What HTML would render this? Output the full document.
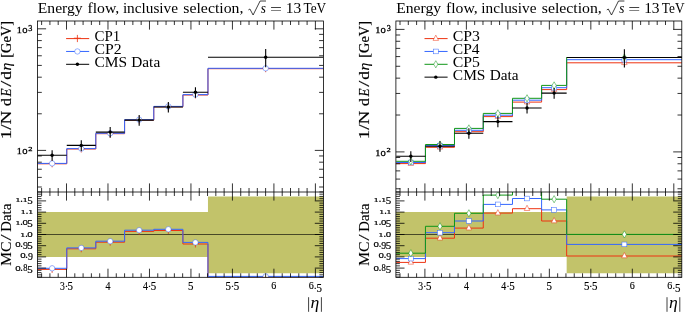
<!DOCTYPE html>
<html><head><meta charset="utf-8"><style>
html,body{margin:0;padding:0;background:#fff;overflow:hidden}
svg{display:block;font-family:"Liberation Serif",serif}
</style></head><body>
<svg width="685" height="312" viewBox="0 0 685 312">
<rect width="685" height="312" fill="#fff"/>
<clipPath id="m0"><rect x="37.5" y="21.0" width="285.9" height="171.0"/></clipPath>
<clipPath id="r0"><rect x="37.5" y="192.0" width="285.9" height="85.30000000000001"/></clipPath>
<g clip-path="url(#r0)">
<path d="M37.50,212.10H207.96V196.4H323.40V273.2H207.96V256.90H37.50Z" fill="#c2c36a"/>
<path d="M37.5,234.50H323.4" stroke="#000" stroke-opacity="0.7" stroke-width="0.9"/>
<path d="M37.50,269.40L66.75,269.40L66.75,248.80L95.79,248.80L95.79,242.20L124.58,242.20L124.58,231.40L153.78,231.40L153.78,230.50L182.90,230.50L182.90,244.00L207.96,244.00L207.96,277.60L323.40,277.60" stroke="#EE3311" stroke-width="1.0" fill="none"/>
<path d="M37.50,268.30L66.75,268.30L66.75,247.90L95.79,247.90L95.79,241.20L124.58,241.20L124.58,230.20L153.78,230.20L153.78,229.30L182.90,229.30L182.90,242.40L207.96,242.40L207.96,276.40L323.40,276.40" stroke="#3366FF" stroke-width="1.0" fill="none"/>
<path d="M48.62,269.00H55.62M52.12,265.70V272.90" stroke="#EE3311" stroke-width="0.8" fill="none"/>
<path d="M77.77,248.40H84.77M81.27,245.10V252.30" stroke="#EE3311" stroke-width="0.8" fill="none"/>
<path d="M106.68,241.80H113.68M110.18,238.50V245.70" stroke="#EE3311" stroke-width="0.8" fill="none"/>
<path d="M135.68,231.00H142.68M139.18,227.70V234.90" stroke="#EE3311" stroke-width="0.8" fill="none"/>
<path d="M164.84,230.10H171.84M168.34,226.80V234.00" stroke="#EE3311" stroke-width="0.8" fill="none"/>
<path d="M191.93,243.60H198.93M195.43,240.30V247.50" stroke="#EE3311" stroke-width="0.8" fill="none"/>
<path d="M262.18,277.20H269.18M265.68,273.90V281.10" stroke="#EE3311" stroke-width="0.8" fill="none"/>
<circle cx="52.12" cy="268.30" r="2.7" fill="#fff" stroke="#3366FF" stroke-width="0.5"/>
<circle cx="81.27" cy="247.90" r="2.7" fill="#fff" stroke="#3366FF" stroke-width="0.5"/>
<circle cx="110.18" cy="241.20" r="2.7" fill="#fff" stroke="#3366FF" stroke-width="0.5"/>
<circle cx="139.18" cy="230.20" r="2.7" fill="#fff" stroke="#3366FF" stroke-width="0.5"/>
<circle cx="168.34" cy="229.30" r="2.7" fill="#fff" stroke="#3366FF" stroke-width="0.5"/>
<circle cx="195.43" cy="242.40" r="2.7" fill="#fff" stroke="#3366FF" stroke-width="0.5"/>
<circle cx="265.68" cy="276.40" r="2.7" fill="#fff" stroke="#3366FF" stroke-width="0.5"/>
</g>
<g clip-path="url(#m0)">
<path d="M37.50,163.80L66.75,163.80L66.75,149.00L95.79,149.00L95.79,133.70L124.58,133.70L124.58,120.10L153.78,120.10L153.78,106.80L182.90,106.80L182.90,95.00L207.96,95.00L207.96,68.70L323.40,68.70" stroke="#EE3311" stroke-width="1.0" fill="none"/>
<path d="M37.50,163.40L66.75,163.40L66.75,148.60L95.79,148.60L95.79,133.30L124.58,133.30L124.58,119.70L153.78,119.70L153.78,106.40L182.90,106.40L182.90,94.60L207.96,94.60L207.96,68.30L323.40,68.30" stroke="#3366FF" stroke-width="1.0" fill="none"/>
<path d="M48.62,163.40H55.62M52.12,160.10V167.30" stroke="#EE3311" stroke-width="0.8" fill="none"/>
<path d="M77.77,148.60H84.77M81.27,145.30V152.50" stroke="#EE3311" stroke-width="0.8" fill="none"/>
<path d="M106.68,133.30H113.68M110.18,130.00V137.20" stroke="#EE3311" stroke-width="0.8" fill="none"/>
<path d="M135.68,119.70H142.68M139.18,116.40V123.60" stroke="#EE3311" stroke-width="0.8" fill="none"/>
<path d="M164.84,106.40H171.84M168.34,103.10V110.30" stroke="#EE3311" stroke-width="0.8" fill="none"/>
<path d="M191.93,94.60H198.93M195.43,91.30V98.50" stroke="#EE3311" stroke-width="0.8" fill="none"/>
<path d="M262.18,68.30H269.18M265.68,65.00V72.20" stroke="#EE3311" stroke-width="0.8" fill="none"/>
<circle cx="52.12" cy="163.40" r="2.7" fill="#fff" stroke="#3366FF" stroke-width="0.5"/>
<circle cx="81.27" cy="148.60" r="2.7" fill="#fff" stroke="#3366FF" stroke-width="0.5"/>
<circle cx="110.18" cy="133.30" r="2.7" fill="#fff" stroke="#3366FF" stroke-width="0.5"/>
<circle cx="139.18" cy="119.70" r="2.7" fill="#fff" stroke="#3366FF" stroke-width="0.5"/>
<circle cx="168.34" cy="106.40" r="2.7" fill="#fff" stroke="#3366FF" stroke-width="0.5"/>
<circle cx="195.43" cy="94.60" r="2.7" fill="#fff" stroke="#3366FF" stroke-width="0.5"/>
<circle cx="265.68" cy="68.30" r="2.7" fill="#fff" stroke="#3366FF" stroke-width="0.5"/>
<path d="M37.50,155.20H66.75M52.12,150.17V160.76M66.75,145.40H95.79M81.27,140.37V150.96M95.79,132.10H124.58M110.18,127.07V137.66M124.58,120.10H153.78M139.18,115.07V125.66M153.78,107.00H182.90M168.34,101.97V112.56M182.90,92.30H207.96M195.43,87.27V97.86M207.96,57.30H323.40M265.68,49.01V67.14" stroke="#000" stroke-width="1.1" fill="none"/>
<circle cx="52.12" cy="155.20" r="1.7" fill="#000"/>
<circle cx="81.27" cy="145.40" r="1.7" fill="#000"/>
<circle cx="110.18" cy="132.10" r="1.7" fill="#000"/>
<circle cx="139.18" cy="120.10" r="1.7" fill="#000"/>
<circle cx="168.34" cy="107.00" r="1.7" fill="#000"/>
<circle cx="195.43" cy="92.30" r="1.7" fill="#000"/>
<circle cx="265.68" cy="57.30" r="1.7" fill="#000"/>
</g>
<path d="M41.61,21.00v4.0M41.61,192.00v-4.0M49.91,21.00v4.0M49.91,192.00v-4.0M58.20,21.00v4.0M58.20,192.00v-4.0M66.50,21.00v8.6M66.50,192.00v-8.6M74.80,21.00v4.0M74.80,192.00v-4.0M83.09,21.00v4.0M83.09,192.00v-4.0M91.39,21.00v4.0M91.39,192.00v-4.0M99.69,21.00v4.0M99.69,192.00v-4.0M107.98,21.00v8.6M107.98,192.00v-8.6M116.28,21.00v4.0M116.28,192.00v-4.0M124.58,21.00v4.0M124.58,192.00v-4.0M132.87,21.00v4.0M132.87,192.00v-4.0M141.17,21.00v4.0M141.17,192.00v-4.0M149.47,21.00v8.6M149.47,192.00v-8.6M157.76,21.00v4.0M157.76,192.00v-4.0M166.06,21.00v4.0M166.06,192.00v-4.0M174.36,21.00v4.0M174.36,192.00v-4.0M182.65,21.00v4.0M182.65,192.00v-4.0M190.95,21.00v8.6M190.95,192.00v-8.6M199.25,21.00v4.0M199.25,192.00v-4.0M207.54,21.00v4.0M207.54,192.00v-4.0M215.84,21.00v4.0M215.84,192.00v-4.0M224.14,21.00v4.0M224.14,192.00v-4.0M232.43,21.00v8.6M232.43,192.00v-8.6M240.73,21.00v4.0M240.73,192.00v-4.0M249.03,21.00v4.0M249.03,192.00v-4.0M257.32,21.00v4.0M257.32,192.00v-4.0M265.62,21.00v4.0M265.62,192.00v-4.0M273.92,21.00v8.6M273.92,192.00v-8.6M282.21,21.00v4.0M282.21,192.00v-4.0M290.51,21.00v4.0M290.51,192.00v-4.0M298.81,21.00v4.0M298.81,192.00v-4.0M307.10,21.00v4.0M307.10,192.00v-4.0M315.40,21.00v8.6M315.40,192.00v-8.6M41.61,192.00v4.0M41.61,277.30v-4.0M49.91,192.00v4.0M49.91,277.30v-4.0M58.20,192.00v4.0M58.20,277.30v-4.0M66.50,192.00v8.6M66.50,277.30v-8.6M74.80,192.00v4.0M74.80,277.30v-4.0M83.09,192.00v4.0M83.09,277.30v-4.0M91.39,192.00v4.0M91.39,277.30v-4.0M99.69,192.00v4.0M99.69,277.30v-4.0M107.98,192.00v8.6M107.98,277.30v-8.6M116.28,192.00v4.0M116.28,277.30v-4.0M124.58,192.00v4.0M124.58,277.30v-4.0M132.87,192.00v4.0M132.87,277.30v-4.0M141.17,192.00v4.0M141.17,277.30v-4.0M149.47,192.00v8.6M149.47,277.30v-8.6M157.76,192.00v4.0M157.76,277.30v-4.0M166.06,192.00v4.0M166.06,277.30v-4.0M174.36,192.00v4.0M174.36,277.30v-4.0M182.65,192.00v4.0M182.65,277.30v-4.0M190.95,192.00v8.6M190.95,277.30v-8.6M199.25,192.00v4.0M199.25,277.30v-4.0M207.54,192.00v4.0M207.54,277.30v-4.0M215.84,192.00v4.0M215.84,277.30v-4.0M224.14,192.00v4.0M224.14,277.30v-4.0M232.43,192.00v8.6M232.43,277.30v-8.6M240.73,192.00v4.0M240.73,277.30v-4.0M249.03,192.00v4.0M249.03,277.30v-4.0M257.32,192.00v4.0M257.32,277.30v-4.0M265.62,192.00v4.0M265.62,277.30v-4.0M273.92,192.00v8.6M273.92,277.30v-8.6M282.21,192.00v4.0M282.21,277.30v-4.0M290.51,192.00v4.0M290.51,277.30v-4.0M298.81,192.00v4.0M298.81,277.30v-4.0M307.10,192.00v4.0M307.10,277.30v-4.0M315.40,192.00v8.6M315.40,277.30v-8.6M37.50,187.01h4.3M323.40,187.01h-4.3M37.50,177.38h4.3M323.40,177.38h-4.3M37.50,169.24h4.3M323.40,169.24h-4.3M37.50,162.18h4.3M323.40,162.18h-4.3M37.50,155.96h4.3M323.40,155.96h-4.3M37.50,150.40h8.6M323.40,150.40h-8.6M37.50,113.79h4.3M323.40,113.79h-4.3M37.50,92.38h4.3M323.40,92.38h-4.3M37.50,77.19h4.3M323.40,77.19h-4.3M37.50,65.41h4.3M323.40,65.41h-4.3M37.50,55.78h4.3M323.40,55.78h-4.3M37.50,47.64h4.3M323.40,47.64h-4.3M37.50,40.58h4.3M323.40,40.58h-4.3M37.50,34.36h4.3M323.40,34.36h-4.3M37.50,28.80h8.6M323.40,28.80h-8.6M37.50,277.06h4.0M323.40,277.06h-4.0M37.50,274.82h4.0M323.40,274.82h-4.0M37.50,272.58h4.0M323.40,272.58h-4.0M37.50,270.34h4.0M323.40,270.34h-4.0M37.50,268.10h8.6M323.40,268.10h-8.6M37.50,265.86h4.0M323.40,265.86h-4.0M37.50,263.62h4.0M323.40,263.62h-4.0M37.50,261.38h4.0M323.40,261.38h-4.0M37.50,259.14h4.0M323.40,259.14h-4.0M37.50,256.90h8.6M323.40,256.90h-8.6M37.50,254.66h4.0M323.40,254.66h-4.0M37.50,252.42h4.0M323.40,252.42h-4.0M37.50,250.18h4.0M323.40,250.18h-4.0M37.50,247.94h4.0M323.40,247.94h-4.0M37.50,245.70h8.6M323.40,245.70h-8.6M37.50,243.46h4.0M323.40,243.46h-4.0M37.50,241.22h4.0M323.40,241.22h-4.0M37.50,238.98h4.0M323.40,238.98h-4.0M37.50,236.74h4.0M323.40,236.74h-4.0M37.50,234.50h8.6M323.40,234.50h-8.6M37.50,232.26h4.0M323.40,232.26h-4.0M37.50,230.02h4.0M323.40,230.02h-4.0M37.50,227.78h4.0M323.40,227.78h-4.0M37.50,225.54h4.0M323.40,225.54h-4.0M37.50,223.30h8.6M323.40,223.30h-8.6M37.50,221.06h4.0M323.40,221.06h-4.0M37.50,218.82h4.0M323.40,218.82h-4.0M37.50,216.58h4.0M323.40,216.58h-4.0M37.50,214.34h4.0M323.40,214.34h-4.0M37.50,212.10h8.6M323.40,212.10h-8.6M37.50,209.86h4.0M323.40,209.86h-4.0M37.50,207.62h4.0M323.40,207.62h-4.0M37.50,205.38h4.0M323.40,205.38h-4.0M37.50,203.14h4.0M323.40,203.14h-4.0M37.50,200.90h8.6M323.40,200.90h-8.6M37.50,198.66h4.0M323.40,198.66h-4.0M37.50,196.42h4.0M323.40,196.42h-4.0M37.50,194.18h4.0M323.40,194.18h-4.0M37.50,191.94h4.0M323.40,191.94h-4.0" stroke="#000" stroke-width="0.8" fill="none"/>
<rect x="37.5" y="21.0" width="285.90" height="256.30" fill="none" stroke="#000" stroke-width="0.8"/>
<path d="M37.5,192.0H323.4" stroke="#000" stroke-width="0.8"/>
<clipPath id="m1"><rect x="395.9" y="21.0" width="285.9" height="171.0"/></clipPath>
<clipPath id="r1"><rect x="395.9" y="192.0" width="285.9" height="85.30000000000001"/></clipPath>
<g clip-path="url(#r1)">
<path d="M396.20,212.10H566.66V196.4H682.10V273.2H566.66V256.90H396.20Z" fill="#c2c36a"/>
<path d="M395.9,234.50H681.8" stroke="#000" stroke-opacity="0.7" stroke-width="0.9"/>
<path d="M396.20,262.40L425.45,262.40L425.45,238.20L454.49,238.20L454.49,228.10L483.28,228.10L483.28,213.10L512.48,213.10L512.48,208.70L541.60,208.70L541.60,221.00L566.66,221.00L566.66,256.00L682.10,256.00" stroke="#EE3311" stroke-width="1.0" fill="none"/>
<path d="M396.20,258.60L425.45,258.60L425.45,232.70L454.49,232.70L454.49,221.00L483.28,221.00L483.28,204.40L512.48,204.40L512.48,198.50L541.60,198.50L541.60,209.90L566.66,209.90L566.66,244.40L682.10,244.40" stroke="#3366FF" stroke-width="1.0" fill="none"/>
<path d="M396.20,253.20L425.45,253.20L425.45,226.30L454.49,226.30L454.49,213.30L483.28,213.30L483.28,195.10L512.48,195.10L512.48,186.00L541.60,186.00L541.60,199.20L566.66,199.20L566.66,234.40L682.10,234.40" stroke="#109618" stroke-width="1.0" fill="none"/>
<path d="M410.82,258.90L413.57,264.20L408.07,264.20Z" fill="#fff" stroke="#EE3311" stroke-width="0.5"/>
<path d="M439.97,234.70L442.72,240.00L437.22,240.00Z" fill="#fff" stroke="#EE3311" stroke-width="0.5"/>
<path d="M468.88,224.60L471.63,229.90L466.13,229.90Z" fill="#fff" stroke="#EE3311" stroke-width="0.5"/>
<path d="M497.88,209.60L500.63,214.90L495.13,214.90Z" fill="#fff" stroke="#EE3311" stroke-width="0.5"/>
<path d="M527.04,205.20L529.79,210.50L524.29,210.50Z" fill="#fff" stroke="#EE3311" stroke-width="0.5"/>
<path d="M554.13,217.50L556.88,222.80L551.38,222.80Z" fill="#fff" stroke="#EE3311" stroke-width="0.5"/>
<path d="M624.38,252.50L627.13,257.80L621.63,257.80Z" fill="#fff" stroke="#EE3311" stroke-width="0.5"/>
<rect x="408.37" y="256.25" width="4.9" height="4.7" fill="#fff" stroke="#3366FF" stroke-width="0.5"/>
<rect x="437.52" y="230.35" width="4.9" height="4.7" fill="#fff" stroke="#3366FF" stroke-width="0.5"/>
<rect x="466.43" y="218.65" width="4.9" height="4.7" fill="#fff" stroke="#3366FF" stroke-width="0.5"/>
<rect x="495.43" y="202.05" width="4.9" height="4.7" fill="#fff" stroke="#3366FF" stroke-width="0.5"/>
<rect x="524.59" y="196.15" width="4.9" height="4.7" fill="#fff" stroke="#3366FF" stroke-width="0.5"/>
<rect x="551.68" y="207.55" width="4.9" height="4.7" fill="#fff" stroke="#3366FF" stroke-width="0.5"/>
<rect x="621.93" y="242.05" width="4.9" height="4.7" fill="#fff" stroke="#3366FF" stroke-width="0.5"/>
<path d="M410.82,249.60L412.92,253.20L410.82,256.80L408.72,253.20Z" fill="#fff" stroke="#109618" stroke-width="0.5"/>
<path d="M439.97,222.70L442.07,226.30L439.97,229.90L437.87,226.30Z" fill="#fff" stroke="#109618" stroke-width="0.5"/>
<path d="M468.88,209.70L470.98,213.30L468.88,216.90L466.78,213.30Z" fill="#fff" stroke="#109618" stroke-width="0.5"/>
<path d="M497.88,191.50L499.98,195.10L497.88,198.70L495.78,195.10Z" fill="#fff" stroke="#109618" stroke-width="0.5"/>
<path d="M527.04,182.40L529.14,186.00L527.04,189.60L524.94,186.00Z" fill="#fff" stroke="#109618" stroke-width="0.5"/>
<path d="M554.13,195.60L556.23,199.20L554.13,202.80L552.03,199.20Z" fill="#fff" stroke="#109618" stroke-width="0.5"/>
<path d="M624.38,230.80L626.48,234.40L624.38,238.00L622.28,234.40Z" fill="#fff" stroke="#109618" stroke-width="0.5"/>
</g>
<g clip-path="url(#m1)">
<path d="M396.20,163.60L425.45,163.60L425.45,147.30L454.49,147.30L454.49,131.70L483.28,131.70L483.28,116.60L512.48,116.60L512.48,102.10L541.60,102.10L541.60,89.60L566.66,89.60L566.66,62.80L682.10,62.80" stroke="#EE3311" stroke-width="1.0" fill="none"/>
<path d="M396.20,162.50L425.45,162.50L425.45,145.60L454.49,145.60L454.49,130.30L483.28,130.30L483.28,115.20L512.48,115.20L512.48,100.20L541.60,100.20L541.60,87.70L566.66,87.70L566.66,59.70L682.10,59.70" stroke="#3366FF" stroke-width="1.0" fill="none"/>
<path d="M396.20,161.30L425.45,161.30L425.45,144.50L454.49,144.50L454.49,128.40L483.28,128.40L483.28,113.40L512.48,113.40L512.48,98.30L541.60,98.30L541.60,85.40L566.66,85.40L566.66,57.50L682.10,57.50" stroke="#109618" stroke-width="1.0" fill="none"/>
<path d="M410.82,160.10L413.57,165.40L408.07,165.40Z" fill="#fff" stroke="#EE3311" stroke-width="0.5"/>
<path d="M439.97,143.80L442.72,149.10L437.22,149.10Z" fill="#fff" stroke="#EE3311" stroke-width="0.5"/>
<path d="M468.88,128.20L471.63,133.50L466.13,133.50Z" fill="#fff" stroke="#EE3311" stroke-width="0.5"/>
<path d="M497.88,113.10L500.63,118.40L495.13,118.40Z" fill="#fff" stroke="#EE3311" stroke-width="0.5"/>
<path d="M527.04,98.60L529.79,103.90L524.29,103.90Z" fill="#fff" stroke="#EE3311" stroke-width="0.5"/>
<path d="M554.13,86.10L556.88,91.40L551.38,91.40Z" fill="#fff" stroke="#EE3311" stroke-width="0.5"/>
<path d="M624.38,59.30L627.13,64.60L621.63,64.60Z" fill="#fff" stroke="#EE3311" stroke-width="0.5"/>
<rect x="408.37" y="160.15" width="4.9" height="4.7" fill="#fff" stroke="#3366FF" stroke-width="0.5"/>
<rect x="437.52" y="143.25" width="4.9" height="4.7" fill="#fff" stroke="#3366FF" stroke-width="0.5"/>
<rect x="466.43" y="127.95" width="4.9" height="4.7" fill="#fff" stroke="#3366FF" stroke-width="0.5"/>
<rect x="495.43" y="112.85" width="4.9" height="4.7" fill="#fff" stroke="#3366FF" stroke-width="0.5"/>
<rect x="524.59" y="97.85" width="4.9" height="4.7" fill="#fff" stroke="#3366FF" stroke-width="0.5"/>
<rect x="551.68" y="85.35" width="4.9" height="4.7" fill="#fff" stroke="#3366FF" stroke-width="0.5"/>
<rect x="621.93" y="57.35" width="4.9" height="4.7" fill="#fff" stroke="#3366FF" stroke-width="0.5"/>
<path d="M410.82,157.70L412.92,161.30L410.82,164.90L408.72,161.30Z" fill="#fff" stroke="#109618" stroke-width="0.5"/>
<path d="M439.97,140.90L442.07,144.50L439.97,148.10L437.87,144.50Z" fill="#fff" stroke="#109618" stroke-width="0.5"/>
<path d="M468.88,124.80L470.98,128.40L468.88,132.00L466.78,128.40Z" fill="#fff" stroke="#109618" stroke-width="0.5"/>
<path d="M497.88,109.80L499.98,113.40L497.88,117.00L495.78,113.40Z" fill="#fff" stroke="#109618" stroke-width="0.5"/>
<path d="M527.04,94.70L529.14,98.30L527.04,101.90L524.94,98.30Z" fill="#fff" stroke="#109618" stroke-width="0.5"/>
<path d="M554.13,81.80L556.23,85.40L554.13,89.00L552.03,85.40Z" fill="#fff" stroke="#109618" stroke-width="0.5"/>
<path d="M624.38,53.90L626.48,57.50L624.38,61.10L622.28,57.50Z" fill="#fff" stroke="#109618" stroke-width="0.5"/>
<path d="M396.20,156.30H425.45M410.82,151.23V161.91M425.45,146.20H454.49M439.97,141.13V151.81M454.49,133.20H483.28M468.88,128.13V138.81M483.28,121.60H512.48M497.88,116.53V127.21M512.48,108.00H541.60M527.04,102.93V113.61M541.60,93.10H566.66M554.13,88.03V98.71M566.66,57.50H682.10M624.38,49.15V67.41" stroke="#000" stroke-width="1.1" fill="none"/>
<circle cx="410.82" cy="156.30" r="1.7" fill="#000"/>
<circle cx="439.97" cy="146.20" r="1.7" fill="#000"/>
<circle cx="468.88" cy="133.20" r="1.7" fill="#000"/>
<circle cx="497.88" cy="121.60" r="1.7" fill="#000"/>
<circle cx="527.04" cy="108.00" r="1.7" fill="#000"/>
<circle cx="554.13" cy="93.10" r="1.7" fill="#000"/>
<circle cx="624.38" cy="57.50" r="1.7" fill="#000"/>
</g>
<path d="M400.01,21.00v4.0M400.01,192.00v-4.0M408.31,21.00v4.0M408.31,192.00v-4.0M416.60,21.00v4.0M416.60,192.00v-4.0M424.90,21.00v8.6M424.90,192.00v-8.6M433.20,21.00v4.0M433.20,192.00v-4.0M441.49,21.00v4.0M441.49,192.00v-4.0M449.79,21.00v4.0M449.79,192.00v-4.0M458.09,21.00v4.0M458.09,192.00v-4.0M466.38,21.00v8.6M466.38,192.00v-8.6M474.68,21.00v4.0M474.68,192.00v-4.0M482.98,21.00v4.0M482.98,192.00v-4.0M491.27,21.00v4.0M491.27,192.00v-4.0M499.57,21.00v4.0M499.57,192.00v-4.0M507.87,21.00v8.6M507.87,192.00v-8.6M516.16,21.00v4.0M516.16,192.00v-4.0M524.46,21.00v4.0M524.46,192.00v-4.0M532.76,21.00v4.0M532.76,192.00v-4.0M541.05,21.00v4.0M541.05,192.00v-4.0M549.35,21.00v8.6M549.35,192.00v-8.6M557.65,21.00v4.0M557.65,192.00v-4.0M565.94,21.00v4.0M565.94,192.00v-4.0M574.24,21.00v4.0M574.24,192.00v-4.0M582.54,21.00v4.0M582.54,192.00v-4.0M590.83,21.00v8.6M590.83,192.00v-8.6M599.13,21.00v4.0M599.13,192.00v-4.0M607.43,21.00v4.0M607.43,192.00v-4.0M615.72,21.00v4.0M615.72,192.00v-4.0M624.02,21.00v4.0M624.02,192.00v-4.0M632.32,21.00v8.6M632.32,192.00v-8.6M640.61,21.00v4.0M640.61,192.00v-4.0M648.91,21.00v4.0M648.91,192.00v-4.0M657.21,21.00v4.0M657.21,192.00v-4.0M665.50,21.00v4.0M665.50,192.00v-4.0M673.80,21.00v8.6M673.80,192.00v-8.6M400.01,192.00v4.0M400.01,277.30v-4.0M408.31,192.00v4.0M408.31,277.30v-4.0M416.60,192.00v4.0M416.60,277.30v-4.0M424.90,192.00v8.6M424.90,277.30v-8.6M433.20,192.00v4.0M433.20,277.30v-4.0M441.49,192.00v4.0M441.49,277.30v-4.0M449.79,192.00v4.0M449.79,277.30v-4.0M458.09,192.00v4.0M458.09,277.30v-4.0M466.38,192.00v8.6M466.38,277.30v-8.6M474.68,192.00v4.0M474.68,277.30v-4.0M482.98,192.00v4.0M482.98,277.30v-4.0M491.27,192.00v4.0M491.27,277.30v-4.0M499.57,192.00v4.0M499.57,277.30v-4.0M507.87,192.00v8.6M507.87,277.30v-8.6M516.16,192.00v4.0M516.16,277.30v-4.0M524.46,192.00v4.0M524.46,277.30v-4.0M532.76,192.00v4.0M532.76,277.30v-4.0M541.05,192.00v4.0M541.05,277.30v-4.0M549.35,192.00v8.6M549.35,277.30v-8.6M557.65,192.00v4.0M557.65,277.30v-4.0M565.94,192.00v4.0M565.94,277.30v-4.0M574.24,192.00v4.0M574.24,277.30v-4.0M582.54,192.00v4.0M582.54,277.30v-4.0M590.83,192.00v8.6M590.83,277.30v-8.6M599.13,192.00v4.0M599.13,277.30v-4.0M607.43,192.00v4.0M607.43,277.30v-4.0M615.72,192.00v4.0M615.72,277.30v-4.0M624.02,192.00v4.0M624.02,277.30v-4.0M632.32,192.00v8.6M632.32,277.30v-8.6M640.61,192.00v4.0M640.61,277.30v-4.0M648.91,192.00v4.0M648.91,277.30v-4.0M657.21,192.00v4.0M657.21,277.30v-4.0M665.50,192.00v4.0M665.50,277.30v-4.0M673.80,192.00v8.6M673.80,277.30v-8.6M395.90,188.78h4.3M681.80,188.78h-4.3M395.90,179.08h4.3M681.80,179.08h-4.3M395.90,170.88h4.3M681.80,170.88h-4.3M395.90,163.77h4.3M681.80,163.77h-4.3M395.90,157.51h4.3M681.80,157.51h-4.3M395.90,151.90h8.6M681.80,151.90h-8.6M395.90,115.02h4.3M681.80,115.02h-4.3M395.90,93.45h4.3M681.80,93.45h-4.3M395.90,78.15h4.3M681.80,78.15h-4.3M395.90,66.28h4.3M681.80,66.28h-4.3M395.90,56.58h4.3M681.80,56.58h-4.3M395.90,48.38h4.3M681.80,48.38h-4.3M395.90,41.27h4.3M681.80,41.27h-4.3M395.90,35.01h4.3M681.80,35.01h-4.3M395.90,29.40h8.6M681.80,29.40h-8.6M395.90,277.06h4.0M681.80,277.06h-4.0M395.90,274.82h4.0M681.80,274.82h-4.0M395.90,272.58h4.0M681.80,272.58h-4.0M395.90,270.34h4.0M681.80,270.34h-4.0M395.90,268.10h8.6M681.80,268.10h-8.6M395.90,265.86h4.0M681.80,265.86h-4.0M395.90,263.62h4.0M681.80,263.62h-4.0M395.90,261.38h4.0M681.80,261.38h-4.0M395.90,259.14h4.0M681.80,259.14h-4.0M395.90,256.90h8.6M681.80,256.90h-8.6M395.90,254.66h4.0M681.80,254.66h-4.0M395.90,252.42h4.0M681.80,252.42h-4.0M395.90,250.18h4.0M681.80,250.18h-4.0M395.90,247.94h4.0M681.80,247.94h-4.0M395.90,245.70h8.6M681.80,245.70h-8.6M395.90,243.46h4.0M681.80,243.46h-4.0M395.90,241.22h4.0M681.80,241.22h-4.0M395.90,238.98h4.0M681.80,238.98h-4.0M395.90,236.74h4.0M681.80,236.74h-4.0M395.90,234.50h8.6M681.80,234.50h-8.6M395.90,232.26h4.0M681.80,232.26h-4.0M395.90,230.02h4.0M681.80,230.02h-4.0M395.90,227.78h4.0M681.80,227.78h-4.0M395.90,225.54h4.0M681.80,225.54h-4.0M395.90,223.30h8.6M681.80,223.30h-8.6M395.90,221.06h4.0M681.80,221.06h-4.0M395.90,218.82h4.0M681.80,218.82h-4.0M395.90,216.58h4.0M681.80,216.58h-4.0M395.90,214.34h4.0M681.80,214.34h-4.0M395.90,212.10h8.6M681.80,212.10h-8.6M395.90,209.86h4.0M681.80,209.86h-4.0M395.90,207.62h4.0M681.80,207.62h-4.0M395.90,205.38h4.0M681.80,205.38h-4.0M395.90,203.14h4.0M681.80,203.14h-4.0M395.90,200.90h8.6M681.80,200.90h-8.6M395.90,198.66h4.0M681.80,198.66h-4.0M395.90,196.42h4.0M681.80,196.42h-4.0M395.90,194.18h4.0M681.80,194.18h-4.0M395.90,191.94h4.0M681.80,191.94h-4.0" stroke="#000" stroke-width="0.8" fill="none"/>
<rect x="395.9" y="21.0" width="285.90" height="256.30" fill="none" stroke="#000" stroke-width="0.8"/>
<path d="M395.9,192.0H681.8" stroke="#000" stroke-width="0.8"/>
<g font-family="Liberation Serif, serif" fill="#000" style="filter:grayscale(1)"><text x="37.75" y="12.75" font-size="15.50" textLength="44.91" lengthAdjust="spacingAndGlyphs" >Energy</text><text x="87.53" y="12.75" font-size="15.50" textLength="31.73" lengthAdjust="spacingAndGlyphs" >flow,</text><text x="122.88" y="12.75" font-size="15.50" textLength="55.15" lengthAdjust="spacingAndGlyphs" >inclusive</text><text x="183.35" y="12.75" font-size="15.50" textLength="60.04" lengthAdjust="spacingAndGlyphs" >selection,</text><path d="M248.4,9.9L249.9,9.0L253.1,15.0L260.1,1.0H266.0" stroke="#000" stroke-width="0.75" fill="none"/><text x="260.74" y="12.75" font-size="15.50" textLength="5.16" lengthAdjust="spacingAndGlyphs" font-style="italic" >s</text><text x="269.94" y="13.95" font-size="15.50" textLength="12.00" lengthAdjust="spacingAndGlyphs" >=</text><text x="285.74" y="12.75" font-size="15.50" textLength="15.46" lengthAdjust="spacingAndGlyphs" >13</text><text x="303.47" y="12.75" font-size="15.50" textLength="22.67" lengthAdjust="spacingAndGlyphs" >TeV</text><g transform="translate(10.8,140.0) rotate(-90)" stroke="#000" stroke-width="0.15"><text x="0.73" y="0.00" font-size="15.00" textLength="28.51" lengthAdjust="spacingAndGlyphs" >1/N</text><text x="33.92" y="0.00" font-size="15.00" textLength="7.97" lengthAdjust="spacingAndGlyphs" >d</text><text x="43.45" y="0.00" font-size="15.00" textLength="8.06" lengthAdjust="spacingAndGlyphs" font-style="italic" >E</text><text x="53.20" y="0.00" font-size="15.00" textLength="6.00" lengthAdjust="spacingAndGlyphs" >/</text><text x="60.38" y="0.00" font-size="15.00" textLength="8.63" lengthAdjust="spacingAndGlyphs" >d</text><text x="69.64" y="0.00" font-size="15.00" textLength="7.82" lengthAdjust="spacingAndGlyphs" font-style="italic" >η</text><text x="82.23" y="0.00" font-size="15.00" textLength="36.84" lengthAdjust="spacingAndGlyphs" >[GeV]</text></g><g transform="translate(10.8,270.0) rotate(-90)" stroke="#000" stroke-width="0.1"><text x="4.05" y="0.00" font-size="15.40" textLength="24.42" lengthAdjust="spacingAndGlyphs" >MC</text><text x="29.20" y="0.00" font-size="15.40" textLength="6.30" lengthAdjust="spacingAndGlyphs" >/</text><text x="37.96" y="0.00" font-size="15.40" textLength="28.54" lengthAdjust="spacingAndGlyphs" >Data</text></g><g stroke="#000" stroke-width="0.28"><text x="16.80" y="32.60" font-size="7.73" textLength="5.11" lengthAdjust="spacingAndGlyphs" >1</text><text x="22.20" y="32.59" font-size="11.02" textLength="5.31" lengthAdjust="spacingAndGlyphs" >o</text><text x="28.31" y="30.63" font-size="7.59" textLength="4.12" lengthAdjust="spacingAndGlyphs" >3</text></g><g stroke="#000" stroke-width="0.28"><text x="16.80" y="154.20" font-size="7.73" textLength="5.11" lengthAdjust="spacingAndGlyphs" >1</text><text x="22.20" y="154.19" font-size="11.02" textLength="5.31" lengthAdjust="spacingAndGlyphs" >o</text><text x="28.23" y="150.50" font-size="6.04" textLength="4.24" lengthAdjust="spacingAndGlyphs" >2</text></g><g stroke="#000" stroke-width="0.22"><text x="15.40" y="202.25" font-size="7.12" textLength="4.83" lengthAdjust="spacingAndGlyphs" >1</text><text x="20.36" y="202.19" font-size="11.00" textLength="2.54" lengthAdjust="spacingAndGlyphs" >.</text><text x="22.75" y="202.25" font-size="7.12" textLength="4.83" lengthAdjust="spacingAndGlyphs" >1</text><text x="27.37" y="204.35" font-size="10.68" textLength="5.46" lengthAdjust="spacingAndGlyphs" >5</text></g><g stroke="#000" stroke-width="0.22"><text x="20.80" y="214.45" font-size="7.12" textLength="4.83" lengthAdjust="spacingAndGlyphs" >1</text><text x="25.76" y="214.39" font-size="11.00" textLength="2.54" lengthAdjust="spacingAndGlyphs" >.</text><text x="28.15" y="214.45" font-size="7.12" textLength="4.83" lengthAdjust="spacingAndGlyphs" >1</text></g><g stroke="#000" stroke-width="0.22"><text x="15.40" y="224.65" font-size="7.12" textLength="4.83" lengthAdjust="spacingAndGlyphs" >1</text><text x="20.36" y="224.59" font-size="11.00" textLength="2.54" lengthAdjust="spacingAndGlyphs" >.</text><text x="22.59" y="224.60" font-size="9.98" textLength="5.43" lengthAdjust="spacingAndGlyphs" >o</text><text x="27.37" y="226.75" font-size="10.68" textLength="5.46" lengthAdjust="spacingAndGlyphs" >5</text></g><g stroke="#000" stroke-width="0.22"><text x="20.20" y="236.85" font-size="7.12" textLength="4.83" lengthAdjust="spacingAndGlyphs" >1</text><text x="25.16" y="236.79" font-size="11.00" textLength="2.54" lengthAdjust="spacingAndGlyphs" >.</text><text x="27.39" y="236.80" font-size="9.98" textLength="5.43" lengthAdjust="spacingAndGlyphs" >o</text></g><g stroke="#000" stroke-width="0.22"><text x="15.24" y="247.00" font-size="9.98" textLength="5.43" lengthAdjust="spacingAndGlyphs" >o</text><text x="20.36" y="246.99" font-size="11.00" textLength="2.54" lengthAdjust="spacingAndGlyphs" >.</text><text x="22.88" y="249.15" font-size="10.57" textLength="4.92" lengthAdjust="spacingAndGlyphs" >9</text><text x="27.37" y="249.15" font-size="10.68" textLength="5.46" lengthAdjust="spacingAndGlyphs" >5</text></g><g stroke="#000" stroke-width="0.22"><text x="20.24" y="258.20" font-size="9.98" textLength="5.43" lengthAdjust="spacingAndGlyphs" >o</text><text x="25.36" y="258.19" font-size="11.00" textLength="2.54" lengthAdjust="spacingAndGlyphs" >.</text><text x="27.88" y="260.35" font-size="10.57" textLength="4.92" lengthAdjust="spacingAndGlyphs" >9</text></g><g stroke="#000" stroke-width="0.22"><text x="15.24" y="270.60" font-size="9.98" textLength="5.43" lengthAdjust="spacingAndGlyphs" >o</text><text x="20.36" y="270.59" font-size="11.00" textLength="2.54" lengthAdjust="spacingAndGlyphs" >.</text><text x="23.18" y="270.54" font-size="10.82" textLength="4.25" lengthAdjust="spacingAndGlyphs" >8</text><text x="27.37" y="272.75" font-size="10.68" textLength="5.46" lengthAdjust="spacingAndGlyphs" >5</text></g><g stroke="#000" stroke-width="0.15"><text x="59.89" y="289.69" font-size="11.61" textLength="4.84" lengthAdjust="spacingAndGlyphs" >3</text><text x="65.13" y="286.94" font-size="11.00" textLength="2.54" lengthAdjust="spacingAndGlyphs" >.</text><text x="67.62" y="289.69" font-size="11.74" textLength="5.46" lengthAdjust="spacingAndGlyphs" >5</text></g><g stroke="#000" stroke-width="0.15"><text x="105.49" y="289.80" font-size="11.85" textLength="4.95" lengthAdjust="spacingAndGlyphs" >4</text></g><g stroke="#000" stroke-width="0.15"><text x="142.97" y="289.80" font-size="11.85" textLength="4.95" lengthAdjust="spacingAndGlyphs" >4</text><text x="148.25" y="286.94" font-size="11.00" textLength="2.54" lengthAdjust="spacingAndGlyphs" >.</text><text x="150.73" y="289.69" font-size="11.74" textLength="5.46" lengthAdjust="spacingAndGlyphs" >5</text></g><g stroke="#000" stroke-width="0.15"><text x="188.12" y="289.69" font-size="11.74" textLength="5.46" lengthAdjust="spacingAndGlyphs" >5</text></g><g stroke="#000" stroke-width="0.15"><text x="225.55" y="289.69" font-size="11.74" textLength="5.46" lengthAdjust="spacingAndGlyphs" >5</text><text x="231.16" y="286.94" font-size="11.00" textLength="2.54" lengthAdjust="spacingAndGlyphs" >.</text><text x="233.65" y="289.69" font-size="11.74" textLength="5.46" lengthAdjust="spacingAndGlyphs" >5</text></g><g stroke="#000" stroke-width="0.15"><text x="271.33" y="289.29" font-size="11.01" textLength="5.03" lengthAdjust="spacingAndGlyphs" >6</text></g><g stroke="#000" stroke-width="0.15"><text x="308.74" y="289.29" font-size="11.01" textLength="5.03" lengthAdjust="spacingAndGlyphs" >6</text><text x="314.11" y="289.34" font-size="11.00" textLength="2.54" lengthAdjust="spacingAndGlyphs" >.</text><text x="316.59" y="292.09" font-size="11.74" textLength="5.46" lengthAdjust="spacingAndGlyphs" >5</text></g><path d="M308.6,297.2V311.8M321.4,297.2V311.8" stroke="#000" stroke-width="0.75"/><text x="310.57" y="308.13" font-size="17.68" textLength="8.76" lengthAdjust="spacingAndGlyphs" font-style="italic" >η</text></g>
<g font-family="Liberation Serif, serif" fill="#000" style="filter:grayscale(1)"><text x="396.15" y="12.75" font-size="15.50" textLength="44.91" lengthAdjust="spacingAndGlyphs" >Energy</text><text x="445.93" y="12.75" font-size="15.50" textLength="31.73" lengthAdjust="spacingAndGlyphs" >flow,</text><text x="481.28" y="12.75" font-size="15.50" textLength="55.15" lengthAdjust="spacingAndGlyphs" >inclusive</text><text x="541.75" y="12.75" font-size="15.50" textLength="60.04" lengthAdjust="spacingAndGlyphs" >selection,</text><path d="M606.8,9.9L608.3,9.0L611.5,15.0L618.5,1.0H624.4" stroke="#000" stroke-width="0.75" fill="none"/><text x="619.14" y="12.75" font-size="15.50" textLength="5.16" lengthAdjust="spacingAndGlyphs" font-style="italic" >s</text><text x="628.34" y="13.95" font-size="15.50" textLength="12.00" lengthAdjust="spacingAndGlyphs" >=</text><text x="644.14" y="12.75" font-size="15.50" textLength="15.46" lengthAdjust="spacingAndGlyphs" >13</text><text x="661.87" y="12.75" font-size="15.50" textLength="22.67" lengthAdjust="spacingAndGlyphs" >TeV</text><g transform="translate(369.2,140.0) rotate(-90)" stroke="#000" stroke-width="0.15"><text x="0.73" y="0.00" font-size="15.00" textLength="28.51" lengthAdjust="spacingAndGlyphs" >1/N</text><text x="33.92" y="0.00" font-size="15.00" textLength="7.97" lengthAdjust="spacingAndGlyphs" >d</text><text x="43.45" y="0.00" font-size="15.00" textLength="8.06" lengthAdjust="spacingAndGlyphs" font-style="italic" >E</text><text x="53.20" y="0.00" font-size="15.00" textLength="6.00" lengthAdjust="spacingAndGlyphs" >/</text><text x="60.38" y="0.00" font-size="15.00" textLength="8.63" lengthAdjust="spacingAndGlyphs" >d</text><text x="69.64" y="0.00" font-size="15.00" textLength="7.82" lengthAdjust="spacingAndGlyphs" font-style="italic" >η</text><text x="82.23" y="0.00" font-size="15.00" textLength="36.84" lengthAdjust="spacingAndGlyphs" >[GeV]</text></g><g transform="translate(369.2,270.0) rotate(-90)" stroke="#000" stroke-width="0.1"><text x="4.05" y="0.00" font-size="15.40" textLength="24.42" lengthAdjust="spacingAndGlyphs" >MC</text><text x="29.20" y="0.00" font-size="15.40" textLength="6.30" lengthAdjust="spacingAndGlyphs" >/</text><text x="37.96" y="0.00" font-size="15.40" textLength="28.54" lengthAdjust="spacingAndGlyphs" >Data</text></g><g stroke="#000" stroke-width="0.28"><text x="375.20" y="33.20" font-size="7.73" textLength="5.11" lengthAdjust="spacingAndGlyphs" >1</text><text x="380.60" y="33.19" font-size="11.02" textLength="5.31" lengthAdjust="spacingAndGlyphs" >o</text><text x="386.71" y="31.23" font-size="7.59" textLength="4.12" lengthAdjust="spacingAndGlyphs" >3</text></g><g stroke="#000" stroke-width="0.28"><text x="375.20" y="155.70" font-size="7.73" textLength="5.11" lengthAdjust="spacingAndGlyphs" >1</text><text x="380.60" y="155.69" font-size="11.02" textLength="5.31" lengthAdjust="spacingAndGlyphs" >o</text><text x="386.63" y="152.00" font-size="6.04" textLength="4.24" lengthAdjust="spacingAndGlyphs" >2</text></g><g stroke="#000" stroke-width="0.22"><text x="373.80" y="202.25" font-size="7.12" textLength="4.83" lengthAdjust="spacingAndGlyphs" >1</text><text x="378.76" y="202.19" font-size="11.00" textLength="2.54" lengthAdjust="spacingAndGlyphs" >.</text><text x="381.15" y="202.25" font-size="7.12" textLength="4.83" lengthAdjust="spacingAndGlyphs" >1</text><text x="385.77" y="204.35" font-size="10.68" textLength="5.46" lengthAdjust="spacingAndGlyphs" >5</text></g><g stroke="#000" stroke-width="0.22"><text x="379.20" y="214.45" font-size="7.12" textLength="4.83" lengthAdjust="spacingAndGlyphs" >1</text><text x="384.16" y="214.39" font-size="11.00" textLength="2.54" lengthAdjust="spacingAndGlyphs" >.</text><text x="386.55" y="214.45" font-size="7.12" textLength="4.83" lengthAdjust="spacingAndGlyphs" >1</text></g><g stroke="#000" stroke-width="0.22"><text x="373.80" y="224.65" font-size="7.12" textLength="4.83" lengthAdjust="spacingAndGlyphs" >1</text><text x="378.76" y="224.59" font-size="11.00" textLength="2.54" lengthAdjust="spacingAndGlyphs" >.</text><text x="380.99" y="224.60" font-size="9.98" textLength="5.43" lengthAdjust="spacingAndGlyphs" >o</text><text x="385.77" y="226.75" font-size="10.68" textLength="5.46" lengthAdjust="spacingAndGlyphs" >5</text></g><g stroke="#000" stroke-width="0.22"><text x="378.60" y="236.85" font-size="7.12" textLength="4.83" lengthAdjust="spacingAndGlyphs" >1</text><text x="383.56" y="236.79" font-size="11.00" textLength="2.54" lengthAdjust="spacingAndGlyphs" >.</text><text x="385.79" y="236.80" font-size="9.98" textLength="5.43" lengthAdjust="spacingAndGlyphs" >o</text></g><g stroke="#000" stroke-width="0.22"><text x="373.64" y="247.00" font-size="9.98" textLength="5.43" lengthAdjust="spacingAndGlyphs" >o</text><text x="378.76" y="246.99" font-size="11.00" textLength="2.54" lengthAdjust="spacingAndGlyphs" >.</text><text x="381.28" y="249.15" font-size="10.57" textLength="4.92" lengthAdjust="spacingAndGlyphs" >9</text><text x="385.77" y="249.15" font-size="10.68" textLength="5.46" lengthAdjust="spacingAndGlyphs" >5</text></g><g stroke="#000" stroke-width="0.22"><text x="378.64" y="258.20" font-size="9.98" textLength="5.43" lengthAdjust="spacingAndGlyphs" >o</text><text x="383.76" y="258.19" font-size="11.00" textLength="2.54" lengthAdjust="spacingAndGlyphs" >.</text><text x="386.28" y="260.35" font-size="10.57" textLength="4.92" lengthAdjust="spacingAndGlyphs" >9</text></g><g stroke="#000" stroke-width="0.22"><text x="373.64" y="270.60" font-size="9.98" textLength="5.43" lengthAdjust="spacingAndGlyphs" >o</text><text x="378.76" y="270.59" font-size="11.00" textLength="2.54" lengthAdjust="spacingAndGlyphs" >.</text><text x="381.58" y="270.54" font-size="10.82" textLength="4.25" lengthAdjust="spacingAndGlyphs" >8</text><text x="385.77" y="272.75" font-size="10.68" textLength="5.46" lengthAdjust="spacingAndGlyphs" >5</text></g><g stroke="#000" stroke-width="0.15"><text x="418.29" y="289.69" font-size="11.61" textLength="4.84" lengthAdjust="spacingAndGlyphs" >3</text><text x="423.53" y="286.94" font-size="11.00" textLength="2.54" lengthAdjust="spacingAndGlyphs" >.</text><text x="426.02" y="289.69" font-size="11.74" textLength="5.46" lengthAdjust="spacingAndGlyphs" >5</text></g><g stroke="#000" stroke-width="0.15"><text x="463.89" y="289.80" font-size="11.85" textLength="4.95" lengthAdjust="spacingAndGlyphs" >4</text></g><g stroke="#000" stroke-width="0.15"><text x="501.37" y="289.80" font-size="11.85" textLength="4.95" lengthAdjust="spacingAndGlyphs" >4</text><text x="506.65" y="286.94" font-size="11.00" textLength="2.54" lengthAdjust="spacingAndGlyphs" >.</text><text x="509.13" y="289.69" font-size="11.74" textLength="5.46" lengthAdjust="spacingAndGlyphs" >5</text></g><g stroke="#000" stroke-width="0.15"><text x="546.52" y="289.69" font-size="11.74" textLength="5.46" lengthAdjust="spacingAndGlyphs" >5</text></g><g stroke="#000" stroke-width="0.15"><text x="583.95" y="289.69" font-size="11.74" textLength="5.46" lengthAdjust="spacingAndGlyphs" >5</text><text x="589.56" y="286.94" font-size="11.00" textLength="2.54" lengthAdjust="spacingAndGlyphs" >.</text><text x="592.05" y="289.69" font-size="11.74" textLength="5.46" lengthAdjust="spacingAndGlyphs" >5</text></g><g stroke="#000" stroke-width="0.15"><text x="629.73" y="289.29" font-size="11.01" textLength="5.03" lengthAdjust="spacingAndGlyphs" >6</text></g><g stroke="#000" stroke-width="0.15"><text x="667.14" y="289.29" font-size="11.01" textLength="5.03" lengthAdjust="spacingAndGlyphs" >6</text><text x="672.51" y="289.34" font-size="11.00" textLength="2.54" lengthAdjust="spacingAndGlyphs" >.</text><text x="674.99" y="292.09" font-size="11.74" textLength="5.46" lengthAdjust="spacingAndGlyphs" >5</text></g><path d="M667.0,297.2V311.8M679.8,297.2V311.8" stroke="#000" stroke-width="0.75"/><text x="668.97" y="308.13" font-size="17.68" textLength="8.76" lengthAdjust="spacingAndGlyphs" font-style="italic" >η</text></g>
<path d="M66.1,38.60H89.2" stroke="#EE3311" stroke-width="1.0"/><path d="M73.90,38.20H80.90M77.40,34.90V42.10" stroke="#EE3311" stroke-width="0.8" fill="none"/><path d="M66.1,51.45H89.2" stroke="#3366FF" stroke-width="1.0"/><circle cx="77.40" cy="51.45" r="2.7" fill="#fff" stroke="#3366FF" stroke-width="0.5"/><path d="M66.1,64.30H89.2" stroke="#000" stroke-width="1.0"/><circle cx="77.40" cy="64.30" r="1.7" fill="#000"/>
<g font-family="Liberation Serif, serif" fill="#000" style="filter:grayscale(1)"><text x="94.49" y="41.40" font-size="15.00" textLength="25.71" lengthAdjust="spacingAndGlyphs" >CP1</text><text x="94.45" y="54.20" font-size="15.00" textLength="27.11" lengthAdjust="spacingAndGlyphs" >CP2</text><text x="94.47" y="67.00" font-size="15.00" textLength="32.59" lengthAdjust="spacingAndGlyphs" >CMS</text><text x="131.26" y="67.00" font-size="15.00" textLength="28.95" lengthAdjust="spacingAndGlyphs" >Data</text></g>
<path d="M424.5,38.60H447.6" stroke="#EE3311" stroke-width="1.0"/><path d="M435.80,35.10L438.55,40.40L433.05,40.40Z" fill="#fff" stroke="#EE3311" stroke-width="0.5"/><path d="M424.5,51.45H447.6" stroke="#3366FF" stroke-width="1.0"/><rect x="433.35" y="49.10" width="4.9" height="4.7" fill="#fff" stroke="#3366FF" stroke-width="0.5"/><path d="M424.5,64.30H447.6" stroke="#109618" stroke-width="1.0"/><path d="M435.80,60.70L437.90,64.30L435.80,67.90L433.70,64.30Z" fill="#fff" stroke="#109618" stroke-width="0.5"/><path d="M424.5,77.15H447.6" stroke="#000" stroke-width="1.0"/><circle cx="435.80" cy="77.15" r="1.7" fill="#000"/>
<g font-family="Liberation Serif, serif" fill="#000" style="filter:grayscale(1)"><text x="452.85" y="41.40" font-size="15.00" textLength="27.16" lengthAdjust="spacingAndGlyphs" >CP3</text><text x="452.86" y="54.20" font-size="15.00" textLength="26.78" lengthAdjust="spacingAndGlyphs" >CP4</text><text x="452.85" y="67.00" font-size="15.00" textLength="27.16" lengthAdjust="spacingAndGlyphs" >CP5</text><text x="452.87" y="79.80" font-size="15.00" textLength="32.59" lengthAdjust="spacingAndGlyphs" >CMS</text><text x="489.66" y="79.80" font-size="15.00" textLength="28.95" lengthAdjust="spacingAndGlyphs" >Data</text></g>
</svg>
</body></html>
